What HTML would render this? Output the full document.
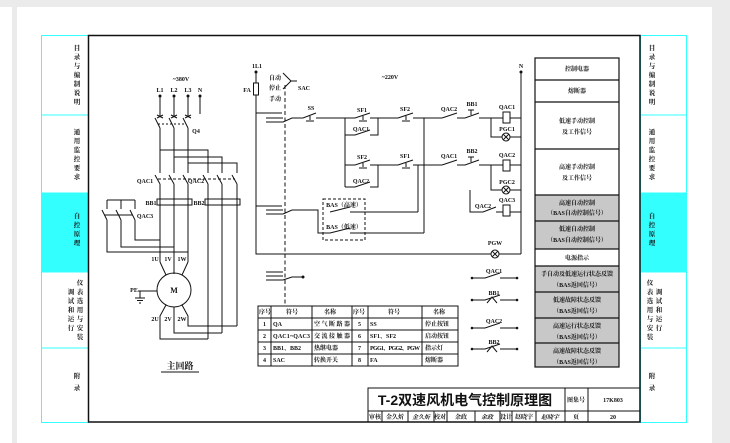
<!DOCTYPE html>
<html><head><meta charset="utf-8"><style>
html,body{margin:0;padding:0;background:#fff}
svg{display:block}
text{font-family:"Liberation Serif","Noto Serif CJK SC","Noto Sans CJK SC",serif;fill:#111}
.t{font-size:6px;font-weight:bold}
.c{font-size:6.5px;font-weight:bold}
</style></head><body>
<svg width="730" height="443" viewBox="0 0 730 443" xmlns="http://www.w3.org/2000/svg">
<rect width="730" height="443" fill="#fff"/>
<rect x="0" y="0" width="730" height="7" fill="#ebebeb"/>
<rect x="12" y="0" width="5" height="443" fill="#ebebeb"/>
<rect x="712" y="0" width="18" height="443" fill="#ebebeb"/>
<g stroke="#3ff" stroke-width="1" fill="none">
<rect x="41.5" y="35.5" width="47" height="387"/>
<rect x="640.5" y="35.5" width="46" height="387"/>
</g>
<rect x="41.5" y="193" width="47" height="79" fill="#3ff"/>
<rect x="640.5" y="193" width="46" height="79" fill="#3ff"/>
<g stroke="#3ff"><line x1="41" y1="115" x2="88" y2="115"/><line x1="41" y1="193" x2="88" y2="193"/><line x1="41" y1="272" x2="88" y2="272"/><line x1="41" y1="348" x2="88" y2="348"/>
<line x1="640" y1="115" x2="687" y2="115"/><line x1="640" y1="193" x2="687" y2="193"/><line x1="640" y1="272" x2="687" y2="272"/><line x1="640" y1="348" x2="687" y2="348"/></g>
<g class="c" text-anchor="middle">
<text x="77" y="50">目</text><text x="77" y="59">录</text><text x="77" y="68">与</text><text x="77" y="77">编</text><text x="77" y="86">制</text><text x="77" y="95">说</text><text x="77" y="104">明</text>
<text x="77" y="134">通</text><text x="77" y="143">用</text><text x="77" y="152">监</text><text x="77" y="161">控</text><text x="77" y="170">要</text><text x="77" y="179">求</text>
<text x="77" y="218">自</text><text x="77" y="227">控</text><text x="77" y="236">原</text><text x="77" y="245">理</text>
<text x="80" y="285">仪</text><text x="80" y="294">表</text><text x="80" y="303">选</text><text x="80" y="312">用</text><text x="80" y="321">与</text><text x="80" y="330">安</text><text x="80" y="339">装</text>
<text x="71" y="294">调</text><text x="71" y="303">试</text><text x="71" y="312">和</text><text x="71" y="321">运</text><text x="71" y="330">行</text>
<text x="77" y="378">附</text><text x="77" y="390">录</text>
<text x="652" y="50">目</text><text x="652" y="59">录</text><text x="652" y="68">与</text><text x="652" y="77">编</text><text x="652" y="86">制</text><text x="652" y="95">说</text><text x="652" y="104">明</text>
<text x="652" y="134">通</text><text x="652" y="143">用</text><text x="652" y="152">监</text><text x="652" y="161">控</text><text x="652" y="170">要</text><text x="652" y="179">求</text>
<text x="652" y="218">自</text><text x="652" y="227">控</text><text x="652" y="236">原</text><text x="652" y="245">理</text>
<text x="650" y="285">仪</text><text x="650" y="294">表</text><text x="650" y="303">选</text><text x="650" y="312">用</text><text x="650" y="321">与</text><text x="650" y="330">安</text><text x="650" y="339">装</text>
<text x="659" y="294">调</text><text x="659" y="303">试</text><text x="659" y="312">和</text><text x="659" y="321">运</text><text x="659" y="330">行</text>
<text x="652" y="378">附</text><text x="652" y="390">录</text>
</g>
<rect x="88.5" y="35.5" width="551.5" height="386.5" fill="none" stroke="#111" stroke-width="1.5"/>

<g stroke="#111" stroke-width="1" fill="none">
<path d="M160 96V116M174 96V116M188 96V116M200 96V114"/>
<path d="M155 118L160 128M169 118L174 128M183 118L188 128M157 115l6 3M163 115l-6 3M171 115l6 3M177 115l-6 3M185 115l6 3M191 115l-6 3"/>
<path d="M158 124H186" stroke-dasharray="2,2"/>
<path d="M160 128V173M174 128V173M188 128V173"/>
<path d="M160 150H208V173M174 157H222V173M188 163H237V173"/>
<path d="M155 175L160 184M169 175L174 184M183 175L188 184M203 175L208 184M217 175L222 184M232 175L237 184"/>
<path d="M158 179H235" stroke-dasharray="3,2"/>
<path d="M160 184V262M174 184V274M188 184V262M208 184V339M222 184V333M237 184V326"/>
<rect x="157" y="199" width="35" height="6"/><rect x="205" y="199" width="35" height="6"/>
<path d="M107 200H135M107 200V209M121 200V209M135 200V209M102 210L107 220M116 210L121 220M130 210L135 220M104 215H133" />
<path d="M107 220V252H188M121 220V247H174M135 220V240H160"/>
<path d="M160 262L166 275M188 262L182 275M166 305L160 316V339H208M174 307V333H222M182 305L188 316V326H237"/>
<circle cx="174" cy="290" r="17"/>
<path d="M138 291H157M140 291V298M135 298H145M137 300.5H143M139 303H141"/>
<path d="M256 72V83M256 95V254H521M521 72V254"/>
<rect x="253.5" y="83" width="5" height="12" fill="#fff"/>
<path d="M285 85V305" stroke-dasharray="4,2.5"/>
<path d="M283 73l8 8-8 8M291 81h6"/>
<path d="M256 113H282M266 118H283M266 122H283M283 122L292 118H302M256 206H282M266 210H283M266 214H283M283 214L292 210H318V233H330M266 272H283M266 276H283M266 280H283M283 280L292 277H303"/>
<path d="M292 118H303L316 113M316 118H345M310 116V120M306 121h8"/>
<path d="M345 118V187M345 118H355L370 113M370 118H398M363 116V120M359 121h8M345 135H355L370 130M370 135H378V118"/>
<path d="M398 118L413 113M413 118H442M406 116V120M402 121h8M424 118V233"/>
<path d="M442 118L457 113M457 118H465L479 113M479 118H503M471 115V110M468 110h6M491 118V137H502M510 137H521M510 118H521"/>
<rect x="503" y="112" width="7" height="11" fill="#fff"/><circle cx="506" cy="137" r="4"/><path d="M503 134l6 6M509 134l-6 6"/>
<path d="M345 165H355L370 160M370 165H398M363 163V167M359 168h8M345 187H355L370 182M370 187H378V165"/>
<path d="M398 165L413 160M413 165H442M406 163V167M402 168h8M418 165V212"/>
<path d="M442 165L457 160M457 165H465L479 160M479 165H503M471 162V157M468 157h6M510 165H521M491 165V190H502M510 190H521M470 190V212H483L496 207M496 212H503M510 212H521"/>
<rect x="503" y="160" width="7" height="11" fill="#fff"/><circle cx="506" cy="190" r="4"/><path d="M503 187l6 6M509 187l-6 6"/>
<rect x="503" y="205" width="7" height="11" fill="#fff"/>
<path d="M330 212L350 207M350 212H418M330 233L350 228M350 233H424"/>
<rect x="323" y="199" width="42" height="41" stroke-dasharray="3,2"/>
<circle cx="495" cy="254" r="4" fill="#fff"/><path d="M492 251l6 6M498 251l-6 6"/>
<path d="M472 278H485L500 273M500 278H517M472 300H485L500 295M500 300H517M487 303L492 297L497 303M472 328H485L500 323M500 328H517M472 349H485L500 344M500 349H517M487 352L492 346L497 352"/>
</g>
<g fill="#111">
<circle cx="160" cy="96" r="1.5"/><circle cx="174" cy="96" r="1.5"/><circle cx="188" cy="96" r="1.5"/><circle cx="200" cy="96" r="1.5"/>
<circle cx="256" cy="72" r="1.5"/><circle cx="521" cy="72" r="1.5"/><circle cx="303" cy="277" r="1.5"/>
<circle cx="472" cy="278" r="1.3"/><circle cx="517" cy="278" r="1.3"/><circle cx="472" cy="300" r="1.3"/><circle cx="517" cy="300" r="1.3"/>
<circle cx="472" cy="328" r="1.3"/><circle cx="517" cy="328" r="1.3"/><circle cx="472" cy="349" r="1.3"/><circle cx="517" cy="349" r="1.3"/>
</g>
<g class="t" text-anchor="middle">
<text x="181" y="81">~380V</text><text x="160" y="92">L1</text><text x="174" y="92">L2</text><text x="188" y="92">L3</text><text x="200" y="92">N</text>
<text x="196" y="133">Q4</text><text x="145" y="183">QAC1</text><text x="196" y="183">QAC2</text>
<text x="151" y="205">BB1</text><text x="199" y="205">BB2</text><text x="145" y="218">QAC3</text>
<text x="155" y="261">1U</text><text x="168" y="261">1V</text><text x="182" y="261">1W</text>
<text x="155" y="321">2U</text><text x="168" y="321">2V</text><text x="182" y="321">2W</text>
<text x="134" y="292">PE</text><text x="174" y="293" font-size="8">M</text>
<text x="257" y="68">1L1</text><text x="247" y="92">FA</text>
<text x="275" y="80">自动</text><text x="275" y="90">停止</text><text x="275" y="101">手动</text><text x="304" y="90">SAC</text>
<text x="390" y="79">~220V</text><text x="521" y="68">N</text>
<text x="311" y="110">SS</text><text x="362" y="112">SF1</text><text x="361" y="131">QAC1</text><text x="405" y="111">SF2</text>
<text x="449" y="111">QAC2</text><text x="472" y="106">BB1</text><text x="507" y="109">QAC1</text><text x="507" y="131">PGC1</text>
<text x="362" y="159">SF2</text><text x="361" y="183">QAC2</text><text x="405" y="158">SF1</text>
<text x="449" y="158">QAC1</text><text x="472" y="153">BB2</text><text x="507" y="157">QAC2</text><text x="507" y="184">PGC2</text>
<text x="507" y="202">QAC3</text><text x="483" y="208">QAC2</text>
<text x="344" y="207">BAS（高速）</text><text x="344" y="229">BAS（低速）</text>
<text x="495" y="245">PGW</text>
<text x="494" y="273">QAC1</text><text x="494" y="295">BB1</text><text x="494" y="323">QAC2</text><text x="494" y="344">BB2</text>
</g>
<text x="180" y="369" font-size="9" font-weight="bold" text-anchor="middle">主回路</text>
<line x1="161" y1="372" x2="199" y2="372" stroke="#111"/>
<g stroke="#111" stroke-width="1" fill="none">
<rect x="258" y="306" width="200" height="60"/>
<path d="M258 318H458M258 330H458M258 342H458M258 354H458M271 306V366M312 306V366M352 306V366M368 306V366M422 306V366"/>
</g>
<g class="t">
<text x="259" y="314">序号</text><text x="286" y="314">符号</text><text x="324" y="314">名称</text><text x="353" y="314">序号</text><text x="388" y="314">符号</text><text x="433" y="314">名称</text>
<text x="263" y="326">1</text><text x="273" y="326">QA</text><text x="314" y="326" textLength="36">空气断路器</text><text x="358" y="326">5</text><text x="370" y="326">SS</text><text x="425" y="326">停止按钮</text>
<text x="263" y="338">2</text><text x="273" y="338" textLength="37">QAC1~QAC3</text><text x="314" y="338" textLength="36">交流接触器</text><text x="358" y="338">6</text><text x="370" y="338">SF1、SF2</text><text x="425" y="338">启动按钮</text>
<text x="263" y="350">3</text><text x="273" y="350">BB1、BB2</text><text x="314" y="350">热继电器</text><text x="358" y="350">7</text><text x="370" y="350" textLength="50">PGG1、PGG2、PGW</text><text x="425" y="350">指示灯</text>
<text x="263" y="362">4</text><text x="273" y="362">SAC</text><text x="314" y="362">转换开关</text><text x="358" y="362">8</text><text x="370" y="362">FA</text><text x="425" y="362">熔断器</text>
</g>
<g fill="#c8c8c8"><rect x="535" y="195" width="84" height="54"/><rect x="535" y="266" width="84" height="101"/></g>
<g stroke="#111" stroke-width="1.2" fill="none">
<rect x="535" y="58" width="84" height="309"/>
<path d="M535 80H619M535 102H619M535 149H619M535 195H619M535 221H619M535 249H619M535 266H619M535 292H619M535 318H619M535 343H619"/>
</g>
<g class="t" text-anchor="middle">
<text x="577" y="71">控制电器</text><text x="577" y="93">熔断器</text>
<text x="577" y="123">低速手动控制</text><text x="577" y="134">及工作信号</text>
<text x="577" y="169">高速手动控制</text><text x="577" y="180">及工作信号</text>
<text x="577" y="205">高速自动控制</text><text x="577" y="215">（BAS自动控制信号）</text>
<text x="577" y="231">低速自动控制</text><text x="577" y="242">（BAS自动控制信号）</text>
<text x="577" y="260">电源指示</text>
<text x="577" y="276">手自动及低速运行状态反馈</text><text x="577" y="287">（BAS返回信号）</text>
<text x="577" y="302">低速故障状态反馈</text><text x="577" y="313">（BAS返回信号）</text>
<text x="577" y="328">高速运行状态反馈</text><text x="577" y="339">（BAS返回信号）</text>
<text x="577" y="353">高速故障状态反馈</text><text x="577" y="364">（BAS返回信号）</text>
</g>
<g stroke="#111" stroke-width="1" fill="none">
<path d="M368 422V388H640M368 411H640M565 388V422M588 388V422M382 411V422M408 411V422M434 411V422M447 411V422M475 411V422M500 411V422M512 411V422M536 411V422"/>
</g>
<text x="465" y="405" font-size="14" font-weight="bold" text-anchor="middle" style="font-family:'Liberation Sans','Noto Sans CJK SC',sans-serif">T-2双速风机电气控制原理图</text>
<g class="t" text-anchor="middle">
<text x="576" y="402">图集号</text><text x="613" y="402">17K803</text>
<text x="375" y="419">审核</text><text x="395" y="419">金久炘</text><text x="421" y="419" font-style="italic">金久炘</text><text x="440" y="419">校对</text><text x="461" y="419">余政</text><text x="487" y="419" font-style="italic">余政</text><text x="506" y="419">设计</text><text x="524" y="419">赵晓宇</text><text x="550" y="419" font-style="italic">赵晓宇</text><text x="576" y="419">页</text><text x="613" y="419">20</text>
</g>
</svg>
</body></html>
